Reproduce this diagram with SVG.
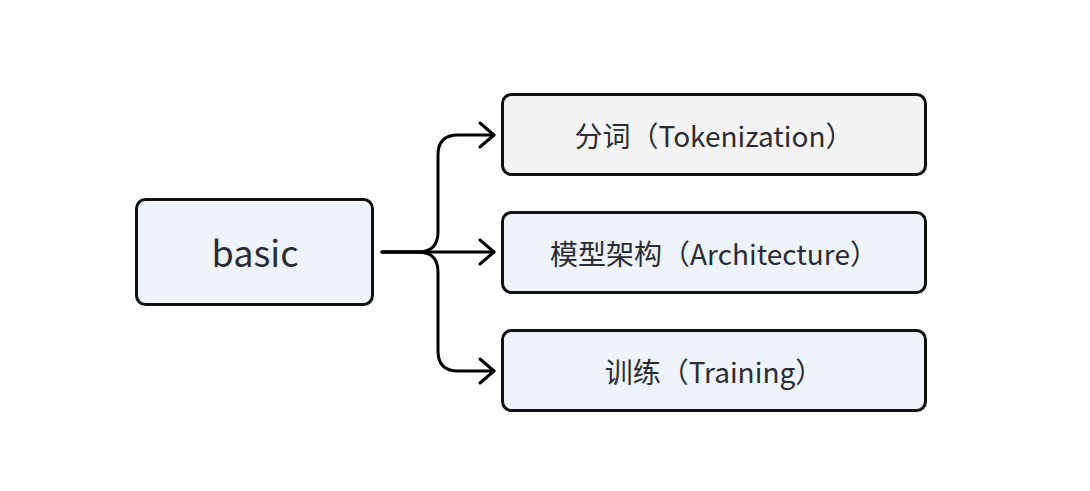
<svg xmlns="http://www.w3.org/2000/svg" width="1090" height="491" viewBox="0 0 1090 491">
<defs>
<style>
.box{stroke:#111;stroke-width:3;}
.blue{fill:#eef3fc;}
.grey{fill:#f4f4f4;}
.t{font-family:"Noto Sans CJK SC","Noto Sans",sans-serif;fill:#2a2d33;text-anchor:middle;}
.c{fill:none;stroke:#000;stroke-width:3;stroke-linecap:round;stroke-linejoin:round;}
</style>
<marker id="arr" viewBox="0 0 20 30" refX="17" refY="15" markerWidth="20" markerHeight="30" markerUnits="userSpaceOnUse" orient="auto">
<path d="M3,3 L17,15 L3,27" fill="none" stroke="#000" stroke-width="3" stroke-linecap="round" stroke-linejoin="round"/>
</marker>
</defs>
<rect width="1090" height="491" fill="#fff"/>
<g id="connectors">
<path class="c" d="M382,252 L418,252 Q438,252 438,232 L438,155 Q438,135 458,135 L494,135" marker-end="url(#arr)"/>
<path class="c" d="M382,252 L494,252" marker-end="url(#arr)"/>
<path class="c" d="M382,252 L418,252 Q438,252 438,272 L438,351 Q438,371 458,371 L494,371" marker-end="url(#arr)"/>
</g>
<g id="node-basic">
<rect class="box blue" x="136.5" y="199.5" width="236" height="105" rx="9"/>
<text class="t" x="255" y="267" font-size="36">basic</text>
</g>
<g id="node-tokenization">
<rect class="box grey" x="502.5" y="94.5" width="423" height="80" rx="9"/>
<text class="t" x="714" y="147" font-size="28">分词（Tokenization）</text>
</g>
<g id="node-architecture">
<rect class="box blue" x="502.5" y="212.5" width="423" height="80" rx="9"/>
<text class="t" x="714" y="265" font-size="28">模型架构（Architecture）</text>
</g>
<g id="node-training">
<rect class="box blue" x="502.5" y="330.5" width="423" height="80" rx="9"/>
<text class="t" x="714" y="383" font-size="28">训练（Training）</text>
</g>
</svg>
